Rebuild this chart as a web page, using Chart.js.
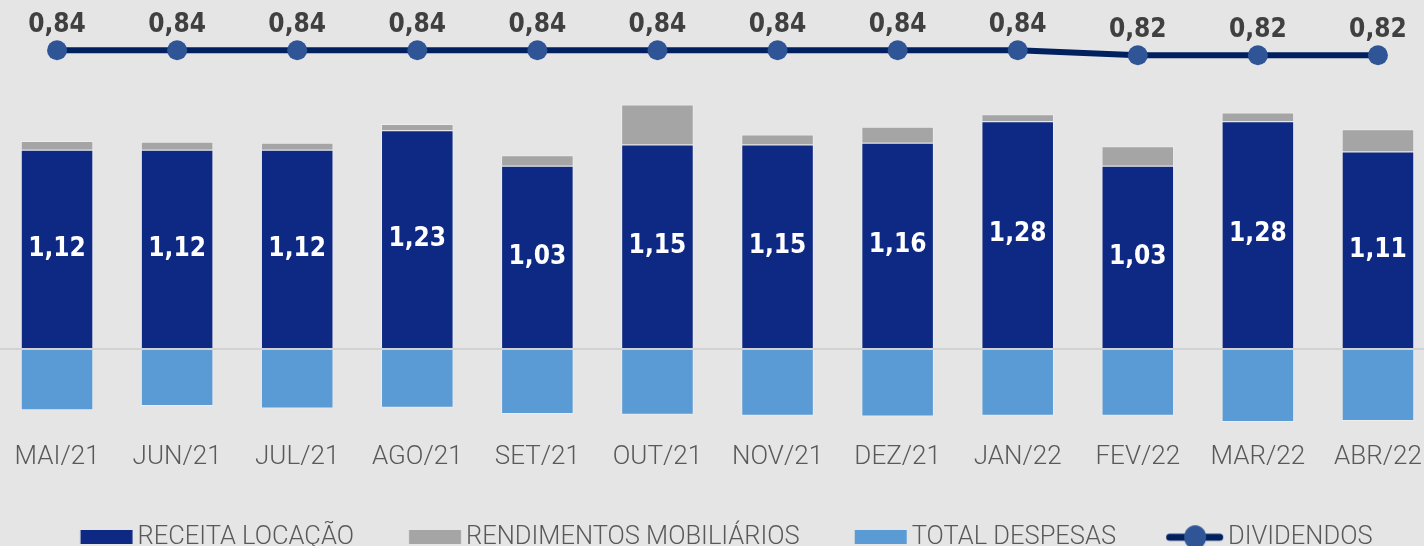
<!DOCTYPE html>
<html>
<head>
<meta charset="utf-8">
<script src="https://cdn.jsdelivr.net/npm/chart.js@4.4.1/dist/chart.umd.min.js"></script>
<style>
  html, body { margin: 0; padding: 0; background: #e5e5e5; overflow: hidden; width: 1424px; height: 546px; }
  #wrap { position: absolute; left: -3px; top: 0; width: 1441px; height: 560px; }
</style>
</head>
<body>
<div id="wrap"><canvas id="c"></canvas></div>
<script>
const categories = ['MAI/21','JUN/21','JUL/21','AGO/21','SET/21','OUT/21','NOV/21','DEZ/21','JAN/22','FEV/22','MAR/22','ABR/22'];
const receitaLocacao = [1.12, 1.12, 1.12, 1.23, 1.03, 1.15, 1.15, 1.16, 1.28, 1.03, 1.28, 1.11];
const rendimentosMobiliarios = [0.05, 0.045, 0.04, 0.035, 0.06, 0.225, 0.056, 0.09, 0.04, 0.11, 0.05, 0.125];
const totalDespesas = [-0.345, -0.32, -0.335, -0.33, -0.365, -0.37, -0.375, -0.38, -0.375, -0.375, -0.41, -0.405];
const dividendos = [0.84, 0.84, 0.84, 0.84, 0.84, 0.84, 0.84, 0.84, 0.84, 0.82, 0.82, 0.82];
const seriesNames = ['RECEITA LOCAÇÃO', 'RENDIMENTOS MOBILIÁRIOS', 'TOTAL DESPESAS', 'DIVIDENDOS'];

const C_NAVY = '#0e2983';
const C_GRAY = '#a5a5a5';
const C_LIGHT = '#5b9bd5';
const C_LINE = '#002060';
const C_POINT = '#2f5597';
const fmt = v => v.toFixed(2).replace('.', ',');

// legend icons (drawn offset inside a wider transparent canvas so the swatch sits close to its text)
function rectIcon(color) {
  const cv = document.createElement('canvas');
  cv.width = 132; cv.height = 14;
  const g = cv.getContext('2d');
  g.fillStyle = color; g.fillRect(52.9, 0, 52, 14);
  return cv;
}
function lineIcon() {
  const cv = document.createElement('canvas');
  cv.width = 132; cv.height = 26;
  const g = cv.getContext('2d');
  g.strokeStyle = C_LINE; g.lineWidth = 7; g.lineCap = 'round';
  g.beginPath(); g.moveTo(51.5, 13); g.lineTo(101.5, 13); g.stroke();
  g.fillStyle = C_POINT;
  g.beginPath(); g.ellipse(77, 13, 11, 12, 0, 0, Math.PI * 2); g.fill();
  return cv;
}
const icons = [rectIcon(C_NAVY), rectIcon(C_GRAY), rectIcon(C_LIGHT), lineIcon()];

const labelPlugin = {
  id: 'valueLabels',
  afterDatasetsDraw(chart) {
    const ctx = chart.ctx;
    ctx.save();
    ctx.textAlign = 'center';
    ctx.textBaseline = 'middle';
    ctx.font = 'bold 26px "DejaVu Sans Condensed", "DejaVu Sans"';
    const m0 = chart.getDatasetMeta(0);
    m0.data.forEach((bar, i) => {
      ctx.fillStyle = '#ffffff';
      ctx.fillText(fmt(receitaLocacao[i]), bar.x, (bar.y + bar.base) / 2);
    });
    const m3 = chart.getDatasetMeta(3);
    m3.data.forEach((pt, i) => {
      ctx.fillStyle = '#404040';
      ctx.fillText(fmt(dividendos[i]), pt.x, pt.y - 25);
    });
    ctx.restore();
  }
};

new Chart(document.getElementById('c'), {
  data: {
    labels: categories,
    datasets: [
      { type: 'bar', label: seriesNames[0], data: receitaLocacao, backgroundColor: C_NAVY, borderColor: 'rgba(255,255,255,0.3)', borderWidth: 1, stack: 's', order: 1, yAxisID: 'y' },
      { type: 'bar', label: seriesNames[1], data: rendimentosMobiliarios, backgroundColor: C_GRAY, borderColor: 'rgba(255,255,255,0.3)', borderWidth: 1, stack: 's', order: 1, yAxisID: 'y' },
      { type: 'bar', label: seriesNames[2], data: totalDespesas, backgroundColor: C_LIGHT, borderColor: 'rgba(255,255,255,0.3)', borderWidth: 1, stack: 's', order: 1, yAxisID: 'y' },
      { type: 'line', label: seriesNames[3], data: dividendos, borderColor: C_LINE, borderWidth: 6, pointRadius: 10, pointBackgroundColor: C_POINT, pointBorderWidth: 0, pointHoverRadius: 10, order: 0, yAxisID: 'y1', tension: 0 }
    ]
  },
  options: {
    responsive: true,
    maintainAspectRatio: false,
    animation: false,
    layout: { autoPadding: false, padding: { top: 20, left: 0, right: 0, bottom: 0 } },
    datasets: { bar: { barPercentage: 0.604, categoryPercentage: 1 } },
    scales: {
      x: {
        stacked: true,
        grid: { display: false, drawTicks: false },
        border: { display: false },
        ticks: { color: '#595959', font: { family: 'Roboto', weight: 300, size: 26 }, padding: 13, maxRotation: 0, autoSkip: false },
        afterFit: axis => { axis.height = 58.5; }
      },
      y: {
        stacked: true,
        min: -0.45, max: 1.85,
        afterBuildTicks: axis => { axis.ticks = [{ value: 0 }]; },
        grid: { color: '#d2d2d2', lineWidth: 2, drawTicks: false },
        border: { display: false },
        ticks: { display: false }
      },
      y1: {
        display: false,
        min: -0.6764, max: 0.9612
      }
    },
    plugins: {
      tooltip: { enabled: false },
      legend: {
        position: 'bottom',
        labels: {
          color: '#595959',
          font: { family: 'Roboto', weight: 300, size: 25.5 },
          usePointStyle: true,
          pointStyleWidth: 62.25,
          padding: 37,
          generateLabels: chart => chart.data.datasets.map((ds, i) => ({
            text: ds.label, pointStyle: icons[i], fontColor: '#595959', datasetIndex: i, hidden: false, lineWidth: 0, strokeStyle: 'transparent', fillStyle: 'transparent'
          }))
        }
      }
    }
  },
  plugins: [labelPlugin]
});
</script>
</body>
</html>
